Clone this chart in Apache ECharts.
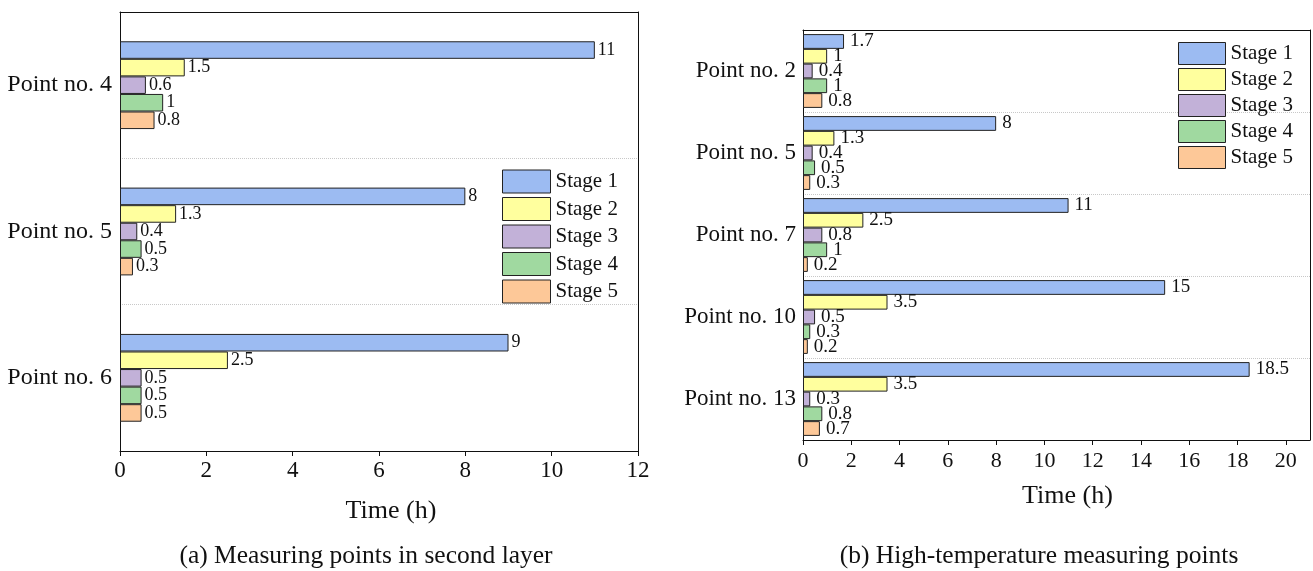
<!DOCTYPE html>
<html>
<head>
<meta charset="utf-8">
<script src="https://cdn.jsdelivr.net/npm/echarts@6/dist/echarts.min.js"></script>
<style>html,body{margin:0;padding:0;background:#fff}#c{width:1313px;height:571px}</style>
</head>
<body>
<div id="c"></div>
<script>
var stages = ['Stage 1', 'Stage 2', 'Stage 3', 'Stage 4', 'Stage 5'];
var colors = ['#9CBBF2', '#FFFF9E', '#C2B1D8', '#A0D9A0', '#FDC898'];

var catsA = ['Point no. 4', 'Point no. 5', 'Point no. 6'];
var stage1A = [11, 8, 9];
var stage2A = [1.5, 1.3, 2.5];
var stage3A = [0.6, 0.4, 0.5];
var stage4A = [1, 0.5, 0.5];
var stage5A = [0.8, 0.3, 0.5];

var catsB = ['Point no. 2', 'Point no. 5', 'Point no. 7', 'Point no. 10', 'Point no. 13'];
var stage1B = [1.7, 8, 11, 15, 18.5];
var stage2B = [1, 1.3, 2.5, 3.5, 3.5];
var stage3B = [0.4, 0.4, 0.8, 0.5, 0.3];
var stage4B = [1, 0.5, 1, 0.3, 0.8];
var stage5B = [0.8, 0.3, 0.2, 0.2, 0.7];

var captionA = '(a) Measuring points in second layer';
var captionB = '(b) High-temperature measuring points';
var axisName = 'Time (h)';

var F = 'Liberation Serif, Times New Roman, serif';
var dataA = [stage1A, stage2A, stage3A, stage4A, stage5A];
var dataB = [stage1B, stage2B, stage3B, stage4B, stage5B];

var series = [];
function addSeries(arr, idx, fs, gap, dist) {
  arr.forEach(function (d, i) {
    series.push({
      type: 'bar', name: stages[i], data: d,
      xAxisIndex: idx, yAxisIndex: idx,
      barGap: '0%', barCategoryGap: gap,
      itemStyle: { color: colors[i], borderColor: '#222', borderWidth: 1 },
      label: { show: true, position: 'right', distance: dist, color: '#111', fontFamily: F, fontSize: fs },
      emphasis: { disabled: true }
    });
  });
}
addSeries(dataA, 0, 18, '40%', 3);
addSeries(dataB, 1, 19, '10%', 6);

var frameX = function (g, pos) {
  return { type: 'value', gridIndex: g, position: pos, min: 0, max: 1,
    axisLine: { show: true, onZero: false, lineStyle: { color: '#111' } },
    axisTick: { show: false }, axisLabel: { show: false }, splitLine: { show: false } };
};
var frameY = function (g, cats) {
  return { type: 'category', gridIndex: g, position: 'right', data: cats, inverse: true,
    axisLine: { show: true, onZero: false, lineStyle: { color: '#111' } },
    axisTick: { show: false }, axisLabel: { show: false }, splitLine: { show: false } };
};

var chart = echarts.init(document.getElementById('c'));
chart.setOption({
  animation: false,
  textStyle: { fontFamily: F },
  grid: [
    { left: 120, top: 12, right: 675, bottom: 120 },
    { left: 803, top: 30, right: 3, bottom: 131 }
  ],
  legend: [
    { data: stages, orient: 'vertical', left: 502, top: 169.5, padding: 0, itemWidth: 48, itemHeight: 23, itemGap: 3.5,
      itemStyle: { borderWidth: 1, borderColor: '#222' },
      textStyle: { fontFamily: F, fontSize: 21, color: '#111', lineHeight: 22 }, icon: 'rect', selectedMode: false },
    { data: stages, orient: 'vertical', left: 1178, top: 42, padding: 0, itemWidth: 47, itemHeight: 22, itemGap: 3,
      itemStyle: { borderWidth: 1, borderColor: '#222' },
      textStyle: { fontFamily: F, fontSize: 21, color: '#111', lineHeight: 21 }, icon: 'rect', selectedMode: false }
  ],
  xAxis: [
    { type: 'value', gridIndex: 0, min: 0, max: 12, interval: 2,
      name: axisName, nameLocation: 'middle', nameGap: 47,
      nameTextStyle: { fontFamily: F, fontSize: 26, color: '#111', padding: [0, 0, 0, 24] },
      axisLine: { show: true, onZero: false, lineStyle: { color: '#111' } },
      axisTick: { show: true, length: 5, lineStyle: { color: '#111' } },
      axisLabel: { fontFamily: F, fontSize: 23, color: '#111', margin: 8 },
      splitLine: { show: false } },
    { type: 'value', gridIndex: 1, min: 0, max: 21, interval: 2,
      name: axisName, nameLocation: 'middle', nameGap: 43,
      nameTextStyle: { fontFamily: F, fontSize: 26, color: '#111', padding: [0, 0, 0, 22] },
      axisLine: { show: true, onZero: false, lineStyle: { color: '#111' } },
      axisTick: { show: true, length: 5, lineStyle: { color: '#111' } },
      axisLabel: { fontFamily: F, fontSize: 22, color: '#111', margin: 10, showMaxLabel: false,
        formatter: function (v) { return v > 20 ? '' : v; } },
      splitLine: { show: false } },
    frameX(0, 'top'),
    frameX(1, 'top')
  ],
  yAxis: [
    { type: 'category', gridIndex: 0, data: catsA, inverse: true,
      axisLine: { show: true, onZero: false, lineStyle: { color: '#111' } },
      axisTick: { show: false },
      axisLabel: { fontFamily: F, fontSize: 24, color: '#111', margin: 8 },
      splitLine: { show: true, lineStyle: { type: 'dotted', color: '#c8c8c8' } } },
    { type: 'category', gridIndex: 1, data: catsB, inverse: true,
      axisLine: { show: true, onZero: false, lineStyle: { color: '#111' } },
      axisTick: { show: false },
      axisLabel: { fontFamily: F, fontSize: 23, color: '#111', margin: 7 },
      splitLine: { show: true, lineStyle: { type: 'dotted', color: '#c8c8c8' } } },
    frameY(0, catsA),
    frameY(1, catsB)
  ],
  graphic: [
    { type: 'text', x: 366, y: 556, style: { text: captionA, font: '25.5px ' + F, fill: '#111', align: 'center', verticalAlign: 'middle' } },
    { type: 'text', x: 1039, y: 556, style: { text: captionB, font: '25.5px ' + F, fill: '#111', align: 'center', verticalAlign: 'middle' } }
  ],
  series: series
});
</script>
</body>
</html>
